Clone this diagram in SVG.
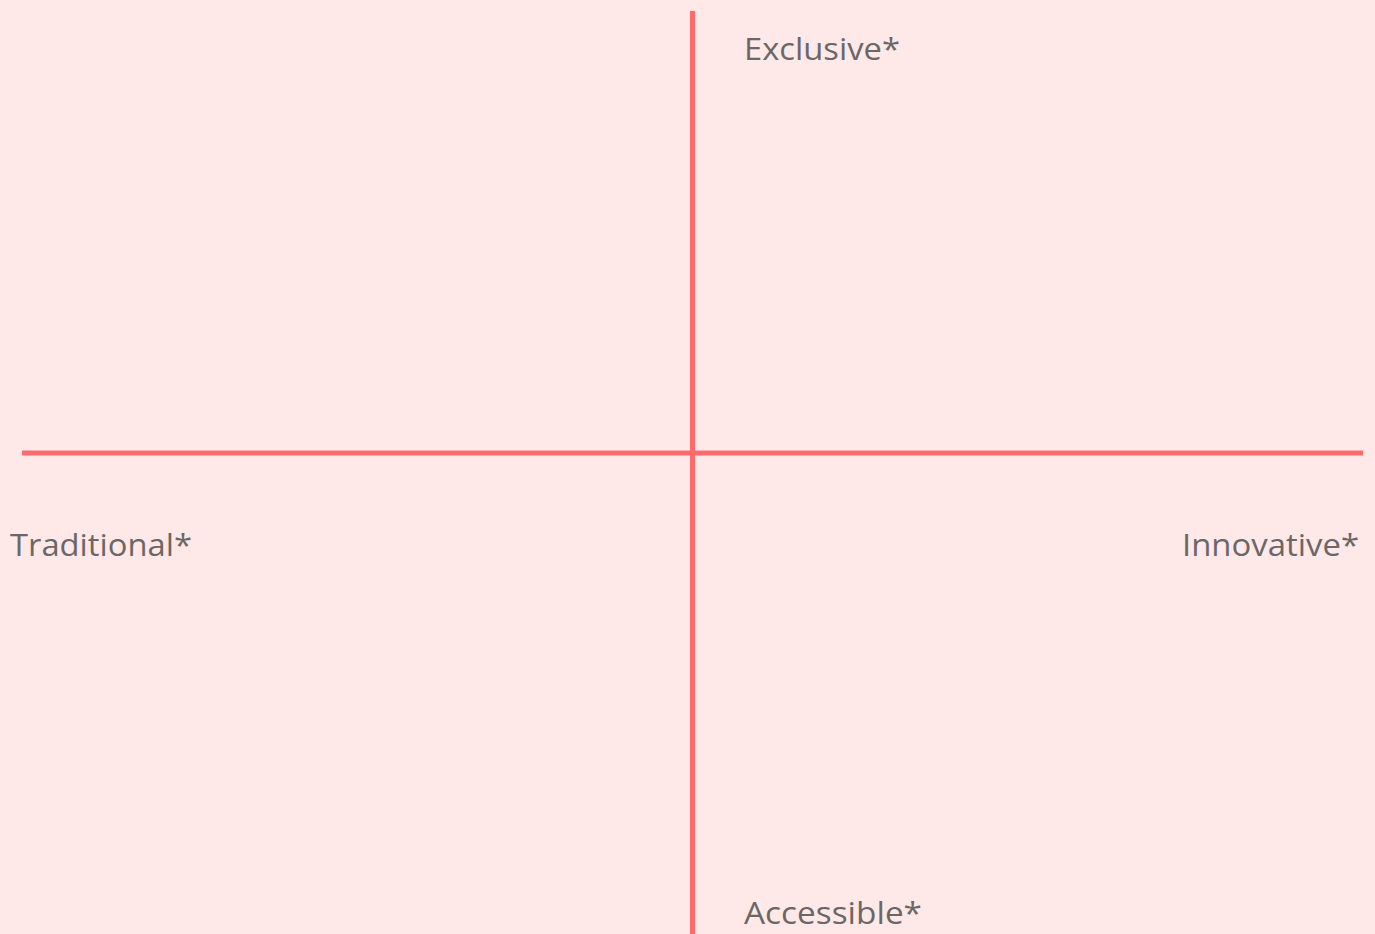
<svg xmlns="http://www.w3.org/2000/svg" width="1375" height="934" viewBox="0 0 1375 934">
<style>
.axis{stroke:#ff6b6b;stroke-width:5;fill:none}
.lbl{font-family:"Open Sans","Liberation Sans",sans-serif;font-size:31px;fill:#6b6767}
</style>
<rect width="1375" height="934" fill="#ffe9e8"/>
<g id="connectors">
<line class="axis" x1="692.500" y1="11" x2="692.500" y2="934"/>
<line class="axis" x1="22" y1="453" x2="1363" y2="453"/>
</g>
<g id="exclusive"><text class="lbl" x="744" y="60" textLength="156" lengthAdjust="spacingAndGlyphs">Exclusive*</text></g>
<g id="traditional"><text class="lbl" x="10" y="556" textLength="182" lengthAdjust="spacingAndGlyphs">Traditional*</text></g>
<g id="innovative"><text class="lbl" x="1182" y="556" textLength="177" lengthAdjust="spacingAndGlyphs">Innovative*</text></g>
<g id="accessible"><text class="lbl" x="744" y="924" textLength="178" lengthAdjust="spacingAndGlyphs">Accessible*</text></g>
</svg>
